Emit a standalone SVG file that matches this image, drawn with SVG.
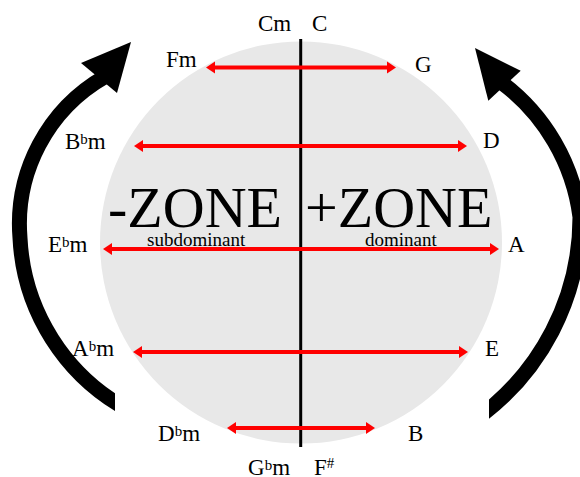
<svg xmlns="http://www.w3.org/2000/svg" width="580" height="477" viewBox="0 0 580 477">
<style>
.lbl{font-family:"Liberation Serif","Times New Roman",serif;font-size:23px;fill:#000}
.sup{font-size:15px}
.zone{font-family:"Liberation Serif","Times New Roman",serif;font-size:58px;fill:#000}
.sub{font-family:"Liberation Serif","Times New Roman",serif;font-size:19px;fill:#000}
.red{stroke:#ff0000;stroke-width:4;fill:none;marker-start:url(#rh);marker-end:url(#rh)}
.big{stroke:#000;stroke-width:15;fill:none}
</style>
<defs>
<marker id="rh" markerUnits="userSpaceOnUse" markerWidth="12" markerHeight="14" viewBox="0 -7 10 14" refX="1" refY="0" orient="auto-start-reverse">
<path d="M0,-6 L9,0 L0,6 Z" fill="#ff0000"/>
</marker>
<clipPath id="clipL"><rect x="0" y="0" width="115" height="477"/></clipPath>
<clipPath id="clipR"><rect x="489" y="0" width="91" height="477"/></clipPath>
</defs>
<g id="zone-circle"><circle cx="301" cy="242.5" r="201" fill="#e8e8e8"/></g>
<g id="axis"><line x1="300.7" y1="39" x2="300.7" y2="447" stroke="#000" stroke-width="3"/></g>
<g id="connectors">
<line class="red" x1="214" y1="67.5" x2="388" y2="67.5"/>
<line class="red" x1="142" y1="146" x2="459" y2="146"/>
<line class="red" x1="111" y1="249" x2="491" y2="249"/>
<line class="red" x1="141" y1="352" x2="460" y2="352"/>
<line class="red" x1="235" y1="428" x2="367" y2="428"/>
</g>
<g id="arrow-left">
<path class="big" clip-path="url(#clipL)" d="M129.8,410.8 A207,207 0 0 1 20,238 A170,170 0 0 1 105.3,76.4"/>
<polygon points="131,42 81,63 117,93" fill="#000"/>
</g>
<g id="arrow-right">
<path class="big" clip-path="url(#clipR)" d="M475,419.8 A248,248 0 0 0 580,217 A200,200 0 0 0 501.5,82.5"/>
<polygon points="475,48 520.7,70.7 488.3,100.7" fill="#000"/>
</g>
<g id="zones">
<text class="zone" x="108" y="227">-ZONE</text>
<text class="zone" x="305" y="227">+ZONE</text>
<text class="sub" x="147" y="246">subdominant</text>
<text class="sub" x="365" y="246">dominant</text>
</g>
<g id="label-Cm"><text class="lbl" x="258" y="31">Cm</text></g>
<g id="label-C"><text class="lbl" x="312" y="31">C</text></g>
<g id="label-Fm"><text class="lbl" x="166" y="67">Fm</text></g>
<g id="label-G"><text class="lbl" x="415" y="72">G</text></g>
<g id="label-Bbm"><text class="lbl" x="65" y="149">B<tspan class="sup" dy="-5">b</tspan><tspan dy="5">m</tspan></text></g>
<g id="label-D"><text class="lbl" x="483" y="148">D</text></g>
<g id="label-Ebm"><text class="lbl" x="48" y="252">E<tspan class="sup" dy="-5">b</tspan><tspan dy="5">m</tspan></text></g>
<g id="label-A"><text class="lbl" x="508" y="252">A</text></g>
<g id="label-Abm"><text class="lbl" x="72" y="356">A<tspan class="sup" dy="-5">b</tspan><tspan dy="5">m</tspan></text></g>
<g id="label-E"><text class="lbl" x="485" y="356">E</text></g>
<g id="label-Dbm"><text class="lbl" x="158" y="441">D<tspan class="sup" dy="-5">b</tspan><tspan dy="5">m</tspan></text></g>
<g id="label-B"><text class="lbl" x="408" y="441">B</text></g>
<g id="label-Gbm"><text class="lbl" x="248" y="475">G<tspan class="sup" dy="-5">b</tspan><tspan dy="5">m</tspan></text></g>
<g id="label-Fsharp"><text class="lbl" x="314" y="475">F<tspan class="sup" dy="-7">#</tspan></text></g>
</svg>
